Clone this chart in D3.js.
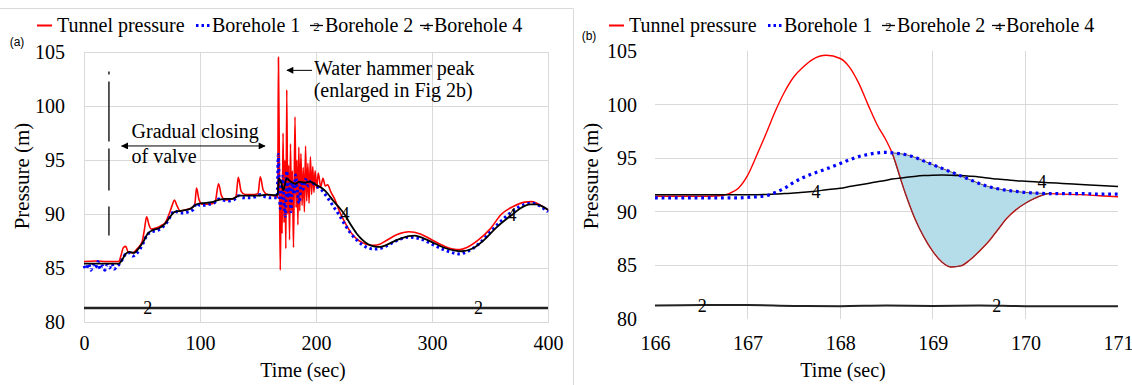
<!DOCTYPE html>
<meta charset="utf-8">
<style>
    body {
        margin: 0;
        background: #fff;
    }

    svg {
        font-family: "Liberation Serif", "Times New Roman", Times, serif;
    }

    .grid line {
        stroke: #d9d9d9;
        stroke-width: 1;
        shape-rendering: crispEdges;
    }
</style>
<body>
<script src="https://cdn.jsdelivr.net/npm/d3@7"></script>
<script>
    const serif = '"Liberation Serif", "Times New Roman", Times, serif';

    // ---- data ----
    const seriesNames = ["Tunnel pressure", "Borehole 1", "Borehole 2", "Borehole 4"];
    const yTicks = [80, 85, 90, 95, 100, 105];
    const xTicksA = [0, 100, 200, 300, 400];
    const xTicksB = [166, 167, 168, 169, 170, 171];

    // (a) full record, [time, pressure]
    const tunnelA = [
        [0, 85.6], [10, 85.65], [20, 85.6], [30, 85.6], [32, 86.2], [34, 86.9], [36, 87.0], [38, 86.5],
        [42, 86.4], [46, 86.8], [50, 87.4], [52, 88.5], [54, 89.75], [56, 89.0], [58, 88.6], [62, 88.7],
        [66, 88.9], [70, 89.2], [73, 89.9], [76, 90.8], [78, 91.3], [80, 90.8], [83, 90.3], [88, 90.4],
        [93, 90.6], [95.5, 90.9], [97, 92.4], [99, 91.4], [102, 90.9], [108, 90.9], [113, 91.1], [116, 92.8],
        [118.5, 91.7], [122, 91.3], [128, 91.4], [131, 91.6], [133, 93.4], [135.5, 92.1], [139, 91.8],
        [146, 91.8], [150, 91.9], [152, 93.45], [154.5, 92.2], [158, 91.8], [163, 91.7], [166.5, 91.6],
        [167, 91.5], [167.6, 104.5], [168.4, 95], [169.2, 84.8], [170, 92.5], [170.8, 88.2], [171.6, 97.5],
        [172.4, 89.2], [173.2, 95], [174, 86.8], [174.8, 101.5], [175.6, 90], [176.4, 94.5], [177.2, 87.6],
        [178, 96.5], [178.8, 90.3], [179.6, 94], [180.6, 86.9], [181.9, 99], [182.8, 90.6], [183.6, 95],
        [184.4, 89], [185.2, 96.2], [186, 90.3], [187, 95.6], [188, 90.8], [189, 94.3], [190, 90.2],
        [191, 96.3], [192, 91.2], [193, 94.7], [194, 91], [195.2, 95.3], [196.2, 91.8], [197.2, 94.4],
        [198.2, 92], [199.2, 94], [200.5, 92.4], [202, 93.8], [204, 92.5], [206, 93.3], [208, 92.6],
        [210, 92.7], [213, 92.0], [216, 91.4], [220, 90.3], [225, 89.2], [230, 88.3], [235, 87.7],
        [240, 87.35], [245, 87.15], [250, 87.1], [255, 87.2], [260, 87.5], [270, 88.1], [280, 88.35],
        [290, 88.15], [300, 87.6], [310, 87.05], [318, 86.75], [324, 86.7], [330, 86.9], [340, 87.6],
        [350, 88.6], [360, 90.0], [370, 90.7], [380, 91.1], [386, 91.15], [392, 90.9], [400, 90.35]
    ];
    const bh1A = [
        [0, 85.2], [2, 84.9], [4, 85.4], [6, 84.8], [8, 85.3], [10, 85.0], [12, 85.6], [14, 84.9],
        [16, 85.2], [18, 84.8], [20, 85.3], [22, 85.0], [24, 85.4], [26, 84.9], [28, 85.1], [30, 85.3],
        [33, 85.8], [36, 86.3], [39, 86.4], [42, 86.1], [45, 86.3], [48, 86.7], [51, 87.3], [54, 88.0],
        [57, 88.3], [60, 88.4], [64, 88.5], [68, 88.8], [72, 89.3], [75, 89.9], [78, 90.3], [82, 90.1],
        [86, 90.1], [90, 90.2], [94, 90.4], [97, 91.0], [100, 90.8], [104, 90.8], [108, 90.9], [112, 91.0],
        [116, 91.4], [119, 91.3], [124, 91.2], [129, 91.3], [133, 91.7], [137, 91.5], [142, 91.5],
        [148, 91.6], [152, 91.8], [156, 91.6], [161, 91.5], [166.5, 91.5],
        [167.5, 95.5], [168.3, 92.5], [169.2, 90.5], [170.2, 92.2], [171.2, 93.5], [172.4, 91.2],
        [173.6, 89.8], [174.8, 94.0], [176, 91.5], [177.2, 92.8], [178.4, 90.2], [179.6, 92.9],
        [181, 91.8], [182.4, 93.6], [184, 92.0], [185.6, 91.0], [187.2, 93.1], [189, 92.3],
        [191, 93.2], [193.5, 92.6], [196, 93.1], [198, 92.8], [200, 92.6],
        [205, 92.2], [210, 91.5], [215, 90.7], [220, 89.9], [225, 89.0], [230, 88.2], [235, 87.6],
        [240, 87.15], [245, 86.85], [250, 86.75], [255, 86.8], [260, 87.0], [270, 87.55], [280, 87.85],
        [290, 87.7], [300, 87.2], [310, 86.7], [318, 86.4], [324, 86.3], [330, 86.5], [340, 87.2],
        [350, 88.3], [360, 89.4], [370, 90.3], [380, 90.9], [387, 91.0], [393, 90.75], [400, 90.2]
    ];
    const bh2A = [[0, 81.3], [100, 81.3], [200, 81.3], [300, 81.3], [400, 81.3]];
    const bh4A = [
        [0, 85.4], [30, 85.4], [33, 85.8], [36, 86.3], [39, 86.5], [43, 86.4], [47, 86.8], [51, 87.4],
        [55, 88.2], [59, 88.5], [65, 88.7], [70, 89.1], [74, 89.7], [78, 90.2], [84, 90.3], [92, 90.5],
        [97, 90.9], [102, 91.0], [110, 91.1], [116, 91.3], [122, 91.4], [128, 91.4], [134, 91.7],
        [142, 91.7], [150, 91.7], [158, 91.8], [165, 91.75], [167, 91.8], [168, 93.3], [170, 92.9],
        [171.8, 92.2], [174.7, 93.3], [178, 93.0], [182, 92.8], [186, 93.0], [190, 92.9], [195, 93.0],
        [200, 92.7], [205, 92.4], [210, 91.9], [215, 91.2], [220, 90.6], [225, 89.9], [230, 89.0],
        [235, 88.2], [240, 87.6], [245, 87.2], [250, 87.0], [255, 86.95], [260, 87.1], [270, 87.6],
        [280, 87.95], [285, 88.0], [290, 87.85], [300, 87.4], [310, 86.9], [320, 86.6], [326, 86.55],
        [335, 86.8], [345, 87.6], [355, 88.7], [365, 89.6], [370, 90.0], [375, 90.45], [385, 90.9],
        [390, 90.9], [395, 90.7], [400, 90.4]
    ];

    // (b) water hammer peak, shared time grid
    const timeB = [166, 166.5, 166.7, 166.8, 166.9, 167.0, 167.1, 167.2, 167.3, 167.4, 167.5, 167.6, 167.7,
        167.85, 168.0, 168.1, 168.2, 168.3, 168.4, 168.5, 168.56, 168.7, 168.8, 168.9, 169.0, 169.1, 169.2,
        169.3, 169.4, 169.5, 169.6, 169.7, 169.8, 169.9, 170.0, 170.1, 170.25, 170.4, 170.6, 170.8, 171];
    const tunnelB = [91.45, 91.45, 91.5, 91.7, 92.2, 93.4, 95.3, 97.3, 99.4, 101.2, 102.6, 103.5, 104.2,
        104.6, 104.3, 103.5, 102.0, 100.0, 98.1, 96.6, 95.5, 91.8, 89.5, 87.7, 86.3, 85.3, 84.85,
        84.95, 85.5, 86.3, 87.2, 88.3, 89.4, 90.2, 90.8, 91.25, 91.7, 91.65, 91.6, 91.5, 91.4];
    const bh1B = [91.3, 91.3, 91.3, 91.3, 91.3, 91.35, 91.4, 91.5, 91.8, 92.2, 92.75, 93.2, 93.55,
        94.0, 94.5, 94.85, 95.15, 95.35, 95.5, 95.55, 95.5, 95.35, 95.1, 94.75, 94.4, 94.05, 93.7,
        93.35, 93.0, 92.65, 92.35, 92.15, 92.0, 91.9, 91.8, 91.75, 91.7, 91.7, 91.7, 91.65, 91.65];
    const bh4B = [91.6, 91.6, 91.6, 91.6, 91.6, 91.6, 91.6, 91.62, 91.65, 91.7, 91.75, 91.82, 91.9,
        92.05, 92.2, 92.35, 92.5, 92.65, 92.8, 92.95, 93.05, 93.2, 93.3, 93.38, 93.42, 93.43, 93.42,
        93.38, 93.32, 93.25, 93.15, 93.05, 92.98, 92.9, 92.85, 92.8, 92.72, 92.65, 92.55, 92.45, 92.35];
    const bh2B = [[166, 81.25], [166.5, 81.3], [167, 81.3], [167.5, 81.22], [168, 81.2], [168.5, 81.25],
        [169, 81.22], [169.5, 81.25], [170, 81.2], [170.5, 81.2], [171, 81.2]];

    // shaded span in (b): tunnel pressure below borehole 1
    const shadeFrom = 168.56, shadeTo = 170.25;

    // curve labels [time, pressure, text]
    const labelsA = [[55, 81.3, "2"], [340, 81.3, "2"], [225, 90.0, "4"], [369, 89.9, "4"]];
    const labelsB = [[166.51, 81.27, "2"], [169.69, 81.24, "2"], [167.74, 91.9, "4"], [170.18, 92.8, "4"]];

    // valve closing marker
    const valveT = 21.5, valveTop = 103.2, valveBottom = 88.0;

    // ---- layout ----
    const width = 1132, height = 385;
    const xa = d3.scaleLinear().domain([0, 400]).range([84, 548]);
    const ya = d3.scaleLinear().domain([80, 105]).range([322, 52]);
    const xb = d3.scaleLinear().domain([166, 171]).range([655, 1118]);
    const yb = d3.scaleLinear().domain([80, 105]).range([319, 51]);

    const svg = d3.select('body')
        .append('svg')
        .attr('width', width)
        .attr('height', height)
        .attr('font-family', serif);

    svg.append('defs').append('marker')
        .attr('id', 'arrow')
        .attr('viewBox', '0 0 10 10')
        .attr('refX', 9).attr('refY', 5)
        .attr('markerWidth', 9).attr('markerHeight', 7)
        .attr('markerUnits', 'userSpaceOnUse')
        .attr('orient', 'auto-start-reverse')
        .append('path')
        .attr('d', 'M0,0L10,5L0,10z')
        .attr('fill', '#000');

    // panel frame lines
    svg.append('line').attr('x1', 0).attr('x2', 573).attr('y1', 8.5).attr('y2', 8.5)
        .attr('stroke', '#d9d9d9');
    svg.append('line').attr('x1', 573.5).attr('x2', 573.5).attr('y1', 8.5).attr('y2', height)
        .attr('stroke', '#d9d9d9');

    function axes(g, x, y, xTicks, padY, padX) {
        g.append('g')
            .attr('transform', 'translate(' + x.range()[0] + ',0)')
            .call(d3.axisLeft(y).tickValues(yTicks).tickSize(0).tickPadding(padY))
            .call(s => s.select('.domain').remove())
            .attr('font-family', serif).attr('font-size', 20);
        g.append('g')
            .attr('transform', 'translate(0,' + y(80) + ')')
            .call(d3.axisBottom(x).tickValues(xTicks).tickSize(0).tickPadding(padX).tickFormat(d3.format('d')))
            .call(s => s.select('.domain').remove())
            .attr('font-family', serif).attr('font-size', 20);
    }

    function titles(g, cx, yLabelX) {
        g.append('text')
            .attr('x', cx).attr('y', 377)
            .attr('text-anchor', 'middle')
            .attr('font-size', 20)
            .text('Time (sec)');
        g.append('text')
            .attr('transform', 'translate(' + yLabelX + ',176) rotate(-90)')
            .attr('text-anchor', 'middle')
            .attr('font-size', 21)
            .text('Pressure (m)');
    }

    function legend(dx, tag, tagY) {
        const g = svg.append('g').attr('transform', 'translate(' + dx + ',0)');
        const markX = [37, 196, 310, 420];
        const textX = [57, 212, 325, 434];
        const my = 25.5;
        g.append('line').attr('x1', markX[0]).attr('x2', markX[0] + 15).attr('y1', my).attr('y2', my)
            .attr('stroke', '#ff0000').attr('stroke-width', 2);
        g.append('line').attr('x1', markX[1]).attr('x2', markX[1] + 14).attr('y1', my).attr('y2', my)
            .attr('stroke', '#0000ff').attr('stroke-width', 3).attr('stroke-dasharray', '2.5,3');
        [2, 3].forEach(i => {
            g.append('line').attr('x1', markX[i]).attr('x2', markX[i] + 13).attr('y1', my).attr('y2', my)
                .attr('stroke', '#000').attr('stroke-width', 1.3);
            g.append('text').attr('x', markX[i] + 6.5).attr('y', my + 5)
                .attr('text-anchor', 'middle').attr('font-size', 13)
                .text(seriesNames[i].slice(-1));
        });
        seriesNames.forEach((name, i) => {
            g.append('text').attr('x', textX[i]).attr('y', 32).attr('font-size', 20).text(name);
        });
        svg.append('text')
            .attr('x', dx + 17).attr('y', tagY)
            .attr('text-anchor', 'middle')
            .attr('font-family', '"Liberation Sans", Arial, sans-serif')
            .attr('font-size', 12)
            .text(tag);
    }

    // ================= panel (a) =================
    const ga = svg.append('g');
    const gridA = ga.append('g').attr('class', 'grid');
    gridA.selectAll('.v').data(xTicksA.slice(1, -1)).join('line')
        .attr('x1', d => xa(d)).attr('x2', d => xa(d)).attr('y1', ya(80)).attr('y2', ya(105));
    gridA.selectAll('.h').data(yTicks.slice(1, -1)).join('line')
        .attr('x1', xa(0)).attr('x2', xa(400)).attr('y1', d => ya(d)).attr('y2', d => ya(d));
    gridA.append('rect')
        .attr('x', xa(0)).attr('y', ya(105))
        .attr('width', xa(400) - xa(0)).attr('height', ya(80) - ya(105))
        .attr('fill', 'none').attr('stroke', '#d9d9d9').attr('shape-rendering', 'crispEdges');

    axes(ga, xa, ya, xTicksA, 19, 14);
    titles(ga, 303, 29);

    const lineA = d3.line().x(d => xa(d[0])).y(d => ya(d[1])).curve(d3.curveMonotoneX);

    ga.append('path').datum(bh2A).attr('d', lineA)
        .attr('fill', 'none').attr('stroke', '#222').attr('stroke-width', 2.5);
    ga.append('path').datum(tunnelA).attr('d', lineA)
        .attr('fill', 'none').attr('stroke', '#ff0000').attr('stroke-width', 1.6);
    ga.append('path').datum(bh1A).attr('d', lineA)
        .attr('fill', 'none').attr('stroke', '#0000ff').attr('stroke-width', 3)
        .attr('stroke-dasharray', '2.5,3');
    ga.append('path').datum(bh4A).attr('d', lineA)
        .attr('fill', 'none').attr('stroke', '#000').attr('stroke-width', 1.8);

    ga.selectAll('.lbl').data(labelsA).join('text')
        .attr('x', d => xa(d[0])).attr('y', d => ya(d[1]))
        .attr('dy', '0.35em').attr('text-anchor', 'middle').attr('font-size', 18)
        .text(d => d[2]);

    // valve closing marker
    ga.append('line')
        .attr('x1', xa(valveT)).attr('x2', xa(valveT))
        .attr('y1', ya(valveTop)).attr('y2', ya(valveBottom))
        .attr('stroke', '#000').attr('stroke-width', 1.3)
        .attr('stroke-dasharray', '3,7,60,7,42,16,29');

    // annotations
    ga.append('line')
        .attr('x1', xa(32.5)).attr('x2', xa(156)).attr('y1', ya(96.3)).attr('y2', ya(96.3))
        .attr('stroke', '#000').attr('stroke-width', 1)
        .attr('marker-start', 'url(#arrow)').attr('marker-end', 'url(#arrow)');
    ga.append('text').attr('x', xa(41)).attr('y', ya(97.05)).attr('font-size', 20).text('Gradual closing');
    ga.append('text').attr('x', xa(41)).attr('y', ya(94.7)).attr('font-size', 20).text('of valve');

    ga.append('line')
        .attr('x1', xa(196.6)).attr('x2', xa(175)).attr('y1', ya(103.3)).attr('y2', ya(103.3))
        .attr('stroke', '#000').attr('stroke-width', 1)
        .attr('marker-end', 'url(#arrow)');
    ga.append('text').attr('x', xa(198.3)).attr('y', ya(102.9)).attr('font-size', 20).text('Water hammer peak');
    ga.append('text').attr('x', xa(198)).attr('y', ya(100.8)).attr('font-size', 20).text('(enlarged in Fig 2b)');

    legend(0, '(a)', 46);

    // ================= panel (b) =================
    const gb = svg.append('g');
    const gridB = gb.append('g').attr('class', 'grid');
    gridB.selectAll('.v').data(xTicksB.slice(1, -1)).join('line')
        .attr('x1', d => xb(d)).attr('x2', d => xb(d)).attr('y1', yb(80)).attr('y2', yb(105));
    gridB.selectAll('.h').data(yTicks.slice(1, -1)).join('line')
        .attr('x1', xb(166)).attr('x2', xb(171)).attr('y1', d => yb(d)).attr('y2', d => yb(d));

    axes(gb, xb, yb, xTicksB, 18, 17);
    titles(gb, 843, 598);

    const rowsB = timeB.map((t, i) => ({t: t, red: tunnelB[i], blue: bh1B[i], black: bh4B[i]}));
    const lineB = key => d3.line().x(d => xb(d.t)).y(d => yb(d[key])).curve(d3.curveMonotoneX);
    const shade = rowsB.filter(d => d.t >= shadeFrom && d.t <= shadeTo);
    const shadeArea = d3.area().x(d => xb(d.t)).y0(d => yb(d.red)).y1(d => yb(d.blue)).curve(d3.curveMonotoneX);

    gb.append('path').datum(shade).attr('d', shadeArea)
        .attr('fill', '#b5dde9').attr('stroke', 'none');

    gb.append('path').datum(bh2B)
        .attr('d', d3.line().x(d => xb(d[0])).y(d => yb(d[1])).curve(d3.curveMonotoneX))
        .attr('fill', 'none').attr('stroke', '#222').attr('stroke-width', 2);
    gb.append('path').datum(rowsB).attr('d', lineB('red'))
        .attr('fill', 'none').attr('stroke', '#ff0000').attr('stroke-width', 1.4);
    gb.append('path').datum(shade).attr('d', shadeArea)
        .attr('fill', 'none').attr('stroke', '#5a3b3b').attr('stroke-width', 0.9);
    gb.append('path').datum(rowsB).attr('d', lineB('black'))
        .attr('fill', 'none').attr('stroke', '#000').attr('stroke-width', 1.5);
    gb.append('path').datum(rowsB).attr('d', lineB('blue'))
        .attr('fill', 'none').attr('stroke', '#0000ff').attr('stroke-width', 3.2)
        .attr('stroke-dasharray', '2.8,3.8');

    gb.selectAll('.lbl').data(labelsB).join('text')
        .attr('x', d => xb(d[0])).attr('y', d => yb(d[1]))
        .attr('dy', '0.35em').attr('text-anchor', 'middle').attr('font-size', 18)
        .text(d => d[2]);

    legend(572, '(b)', 40);
</script>
</body>
